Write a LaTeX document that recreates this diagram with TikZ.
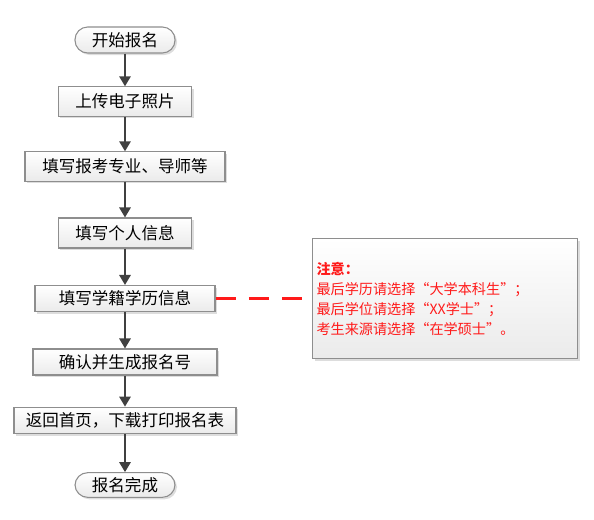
\documentclass[tikz,border=0pt]{standalone}
\usepackage{fontspec}
\setmainfont{Noto Sans CJK SC}
\usetikzlibrary{arrows.meta,shadows}
\definecolor{arrowgray}{HTML}{404040}
\definecolor{boxline}{HTML}{8E8E8E}
\definecolor{notered}{HTML}{FF1A1A}
\tikzset{
  stepbox/.style={draw=boxline,line width=0.8pt,top color=white,bottom color=gray!16,
    minimum height=21pt,inner sep=0pt,font=\fontsize{12.4}{14}\selectfont,
    drop shadow={shadow xshift=1.5pt,shadow yshift=-1.5pt,fill=gray!45,opacity=0.6}},
  terminal/.style={stepbox,rounded corners=9.5pt,minimum width=75pt,minimum height=19.5pt},
  flowarrow/.style={draw=arrowgray,line width=1.5pt,-{Triangle[length=7.5pt,width=8.5pt]}},
  notebox/.style={stepbox,anchor=north west,minimum width=199pt,minimum height=90pt,
    inner xsep=3pt,text width=193pt,align=left,text=notered,
    font=\fontsize{10.6}{15}\selectfont},
  notelink/.style={draw=notered,line width=2.2pt,dash pattern=on 15pt off 10pt}
}
\begin{document}
\begin{tikzpicture}[x=0.75pt,y=-0.75pt]
  \useasboundingbox (0,0) rectangle (594,519);
  % flow steps, top to bottom
  \node[terminal] (start) at (125,40) {开始报名};
  \node[stepbox,minimum width=100pt,minimum height=22pt] (photo) at (125,101.5) {上传电子照片};
  \node[stepbox,minimum width=150pt,minimum height=22pt] (major) at (125,166.5) {填写报考专业、导师等};
  \node[stepbox,minimum width=100pt,minimum height=22.5pt] (person) at (125,233) {填写个人信息};
  \node[stepbox,minimum width=135pt,minimum height=19.5pt] (degree) at (125,298.5) {填写学籍学历信息};
  \node[stepbox,minimum width=138pt,minimum height=19.5pt] (confirm) at (125,362) {确认并生成报名号};
  \node[stepbox,minimum width=166.5pt,minimum height=20pt] (print) at (125,420.5) {返回首页，下载打印报名表};
  \node[terminal,minimum height=18.5pt] (finish) at (125,485) {报名完成};
  % arrows between the steps
  \foreach \a/\b in {start/photo,photo/major,major/person,person/degree,degree/confirm,confirm/print,print/finish}{
    \draw[flowarrow] (\a.south) -- (\b.north);
  }
  % the note on the right
  \node[notebox] (note) at (312,238) {\textbf{注意：}\\
    最后学历请选择“大学本科生”；\\
    最后学位请选择“XX学士”；\\
    考生来源请选择“在学硕士”。};
  \draw[notelink] (degree.east) -- (note.west |- degree.east);
\end{tikzpicture}
\end{document}
